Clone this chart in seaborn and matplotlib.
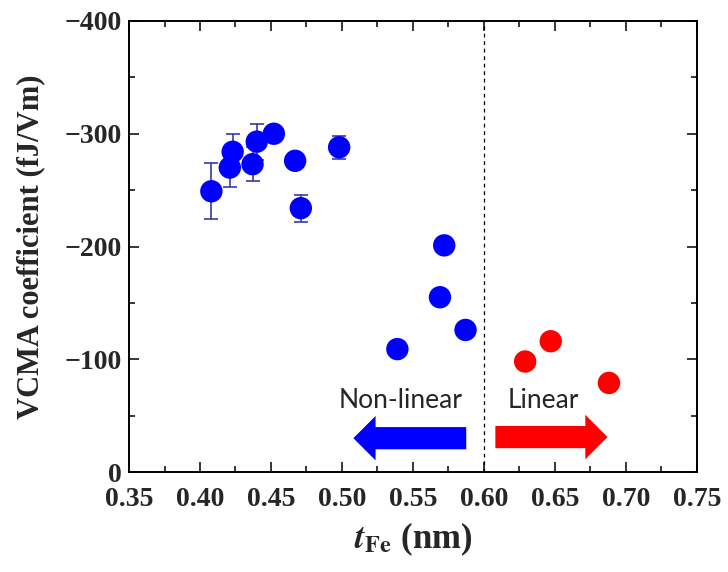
import numpy as np
import pandas as pd
import seaborn as sns
import matplotlib.pyplot as plt
from matplotlib.ticker import MultipleLocator

sns.set_theme(style="ticks")
plt.rcParams['font.family'] = ['Liberation Serif', 'DejaVu Serif']
plt.rcParams['mathtext.fontset'] = 'stix'

# data
t_fe_nonlin = [0.408, 0.423, 0.421, 0.440, 0.437, 0.452, 0.467, 0.471, 0.498,
               0.539, 0.569, 0.572, 0.587]
vcma_nonlin = [-249, -284, -270, -293, -273, -300, -276, -234, -288,
               -109, -155, -201, -126]
err_nonlin = [25, 16, 17, 16, 15, 0, 0, 12, 10, 0, 0, 0, 0]

t_fe_lin = [0.629, 0.647, 0.688]
vcma_lin = [-98, -116, -79]

df = pd.DataFrame({
    't_Fe': t_fe_nonlin + t_fe_lin,
    'VCMA': vcma_nonlin + vcma_lin,
    'regime': ['Non-linear'] * len(t_fe_nonlin) + ['Linear'] * len(t_fe_lin),
})

fig = plt.figure(figsize=(7.28, 5.72), dpi=100)
ax = fig.add_axes([0.1772, 0.1748, 0.7802, 0.7885])

ax.errorbar(t_fe_nonlin, vcma_nonlin, yerr=err_nonlin, fmt='none',
            ecolor='#3a3aa8', elinewidth=1.2, capsize=5, capthick=1.2, zorder=2)
sns.scatterplot(data=df, x='t_Fe', y='VCMA', hue='regime',
                palette={'Non-linear': '#0000ff', 'Linear': '#ff0000'},
                s=260, edgecolor='none', legend=False, ax=ax, zorder=3)

ax.axvline(0.60, color='black', linestyle=(0, (3, 3)), linewidth=0.9, zorder=1)

# arrows and labels
arrow_kw = dict(arrowstyle='simple,head_length=1.0,head_width=2.0,tail_width=1.0',
                mutation_scale=16, shrinkA=0, shrinkB=0, lw=0)
ax.annotate('', xy=(0.508, -30), xytext=(0.5875, -30),
            arrowprops=dict(color='#0000ff', **arrow_kw))
ax.annotate('', xy=(0.687, -31), xytext=(0.608, -31),
            arrowprops=dict(color='#ff0000', **arrow_kw))
ax.text(0.541, -63, 'Non-linear', fontsize=19, family=['Lato', 'DejaVu Sans'],
        ha='center', va='center')
ax.text(0.642, -63, 'Linear', fontsize=19, family=['Lato', 'DejaVu Sans'],
        ha='center', va='center')

ax.set_xlim(0.35, 0.75)
ax.set_ylim(0, -400)
ax.xaxis.set_major_locator(MultipleLocator(0.05))
ax.xaxis.set_minor_locator(MultipleLocator(0.025))
ax.yaxis.set_major_locator(MultipleLocator(100))
ax.yaxis.set_minor_locator(MultipleLocator(50))
ax.xaxis.set_major_formatter(plt.FuncFormatter(lambda v, p: f'{v:.2f}'))
ax.yaxis.set_major_formatter(plt.FuncFormatter(lambda v, p: f'{v:.0f}'.replace('-', '\u2212')))
ax.tick_params(which='both', direction='in', top=True, right=True,
               width=1.3, labelsize=20)
ax.tick_params(axis='x', which='major', pad=11)
ax.tick_params(axis='y', which='major', pad=5)
ax.tick_params(which='major', length=7)
ax.tick_params(which='minor', length=4)
for lab in ax.get_xticklabels() + ax.get_yticklabels():
    lab.set_fontweight('bold')
for sp in ax.spines.values():
    sp.set_linewidth(1.4)
    sp.set_color('black')

ax.set_xlabel(r'$\mathbfit{t}_{\mathbf{Fe}}$ (nm)', fontsize=25, fontweight='bold', labelpad=6)
ax.set_ylabel('VCMA coefficient (fJ/Vm)', fontsize=22, fontweight='bold', labelpad=14)

fig.savefig('out.png', dpi=100, facecolor='white')
